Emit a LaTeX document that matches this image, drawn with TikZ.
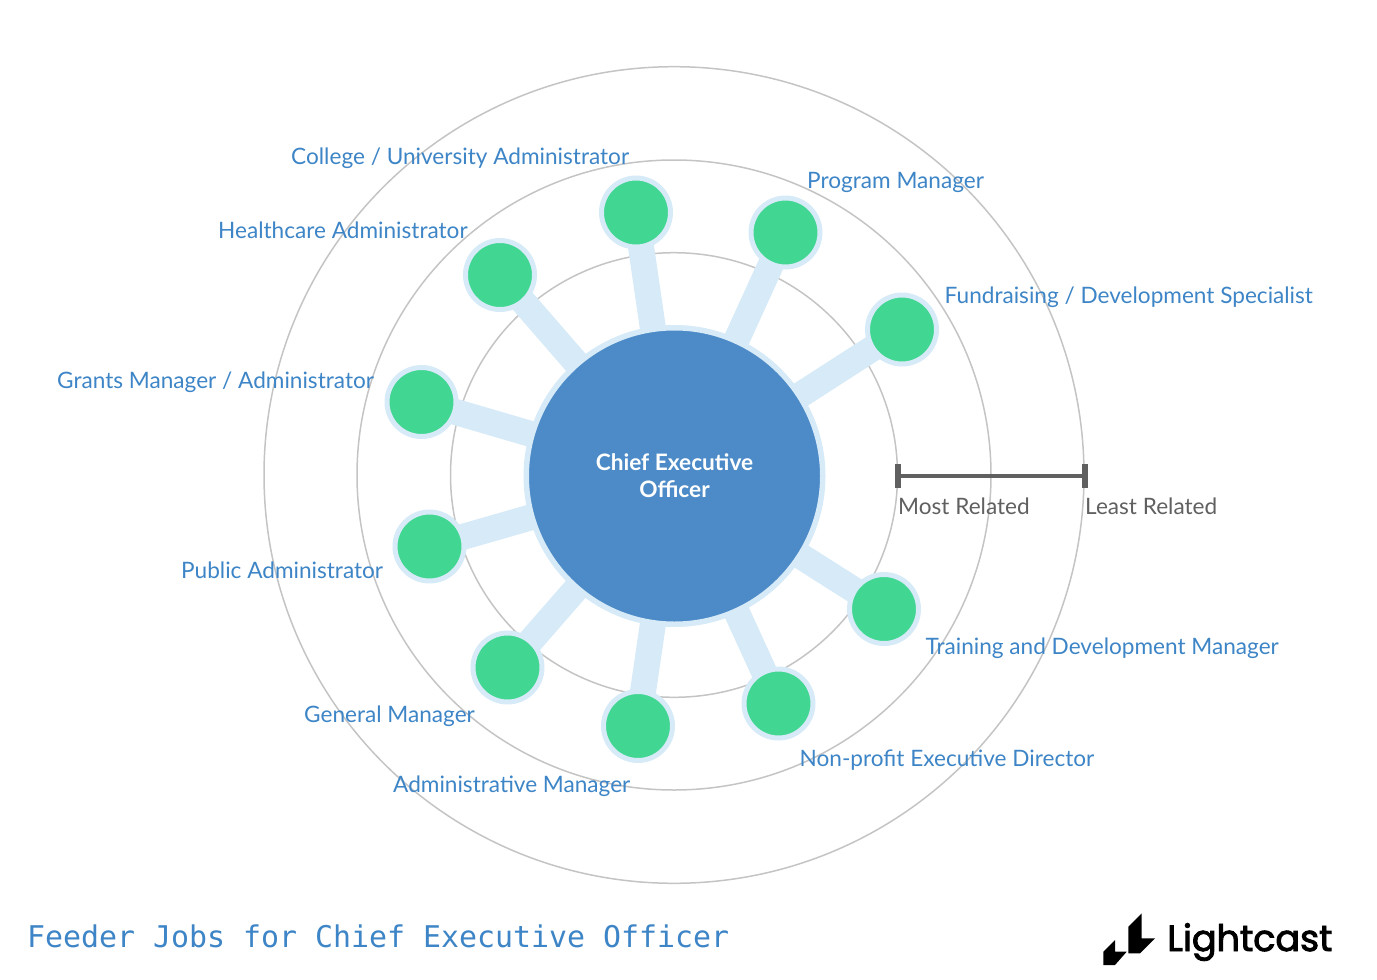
\documentclass[tikz,border=0pt]{standalone}
\usepackage{fontspec}
\setmainfont{Lato}
\newfontfamily\titlefont{DejaVu Sans Mono}
\newfontfamily\logofont[FakeBold=2.5]{Poppins}
\usetikzlibrary{arrows.meta,backgrounds,shapes.geometric}
\definecolor{ringgray}{HTML}{C4C4C4}
\definecolor{halo}{HTML}{D7EAF8}
\definecolor{hubblue}{HTML}{4C8BC7}
\definecolor{jobgreen}{HTML}{41D692}
\definecolor{labelblue}{HTML}{3D85C6}
\definecolor{scalegray}{HTML}{606060}
\tikzset{
    ring/.style n args={2}{ellipse,draw=ringgray,line width=1.5pt,minimum width=#1,minimum height=#2,inner sep=0pt,outer sep=0pt},
    hub/.style={circle,fill=hubblue,draw=halo,line width=5.5pt,minimum size=296.5pt,inner sep=0pt,text=white,align=center,font=\fontsize{22.65}{27}\selectfont\bfseries},
    job/.style={circle,fill=jobgreen,draw=halo,line width=5pt,minimum size=69pt,inner sep=0pt},
    spoke/.style={draw=halo,line width=26pt,shorten <=-5pt,shorten >=-5pt},
    joblabel/.style={anchor=base west,inner sep=0pt,text=labelblue,font=\fontsize{22.6}{27}\selectfont},
    scalelabel/.style={anchor=base west,inner sep=0pt,text=scalegray,font=\fontsize{22.6}{27}\selectfont}
}
\begin{document}
\begin{tikzpicture}[x=1pt,y=-1pt]
    \useasboundingbox (0,0) rectangle (1377,980);
    % centre and jobs
    \node [hub] (ceo) at (674.5,476) {Chief Executive\\Officer};
    \node [job] (college) at (636,212.5) {};
    \node [job] (program) at (785.5,232.5) {};
    \node [job] (fundraising) at (902,329.5) {};
    \node [job] (healthcare) at (500,275) {};
    \node [job] (grants) at (421.5,402) {};
    \node [job] (public) at (429.5,546.5) {};
    \node [job] (general) at (507.5,667.5) {};
    \node [job] (administrative) at (638,726) {};
    \node [job] (nonprofit) at (778.5,703.5) {};
    \node [job] (training) at (884,609) {};
    % rings and spokes
    \begin{scope}[on background layer]
        \node [ring={447pt}{444.6pt}] (inner) at (674,475) {};
        \node [ring={634pt}{630pt}] (middle) at (674,475) {};
        \node [ring={820pt}{816.6pt}] (outer) at (674,475) {};
        \draw [spoke] (ceo) -- (college);\draw [spoke] (ceo) -- (program);\draw [spoke] (ceo) -- (fundraising);
        \draw [spoke] (ceo) -- (healthcare);\draw [spoke] (ceo) -- (grants);\draw [spoke] (ceo) -- (public);
        \draw [spoke] (ceo) -- (general);\draw [spoke] (ceo) -- (administrative);\draw [spoke] (ceo) -- (nonprofit);
        \draw [spoke] (ceo) -- (training);
    \end{scope}
    % labels
    \node [joblabel] (collegetext) at (291,164) {College / University Administrator};
    \node [joblabel] (programtext) at (807,188) {Program Manager};
    \node [joblabel] (fundraisingtext) at (944.5,303) {Fundraising / Development Specialist};
    \node [joblabel] (healthcaretext) at (218,238) {Healthcare Administrator};
    \node [joblabel] (grantstext) at (57,388) {Grants Manager / Administrator};
    \node [joblabel] (publictext) at (181,578) {Public Administrator};
    \node [joblabel] (generaltext) at (304,722) {General Manager};
    \node [joblabel] (administrativetext) at (393,792) {Administrative Manager};
    \node [joblabel] (nonprofittext) at (799.5,766) {Non-profit Executive Director};
    \node [joblabel] (trainingtext) at (925.5,654) {Training and Development Manager};
    % scale
    \coordinate (most) at (895,476);
    \coordinate (least) at (1087.5,476);
    \draw [scalegray,line width=4.5pt,{Bar[width=24pt,line width=5.5pt,length=0pt]}-{Bar[width=24pt,line width=5.5pt,length=0pt]}] (most) -- (least);
    \node [scalelabel] (mosttext) at (898,514) {Most Related};
    \node [scalelabel] (leasttext) at (1085,514) {Least Related};
    % title and logo
    \node [anchor=base west,inner sep=0pt,text=labelblue,font=\fontsize{29.9}{36}\titlefont] (title) at (27,947) {Feeder Jobs for Chief Executive Officer};
    \fill [black] (1141.7,913.3) -- (1141.7,938.3) -- (1155,938.3) -- (1140,953.3) -- (1128.3,953.3) -- (1128.3,926.7) -- cycle;
    \fill [black] (1115,940) -- (1115,951.7) -- (1126.7,951.7) -- (1115,965) -- (1103.3,965) -- (1103.3,951.7) -- cycle;
    \node [anchor=base west,inner sep=0pt,text=black,font=\fontsize{36.5}{40}\logofont] (logo) at (1167,951) {Lightcast};
\end{tikzpicture}
\end{document}
